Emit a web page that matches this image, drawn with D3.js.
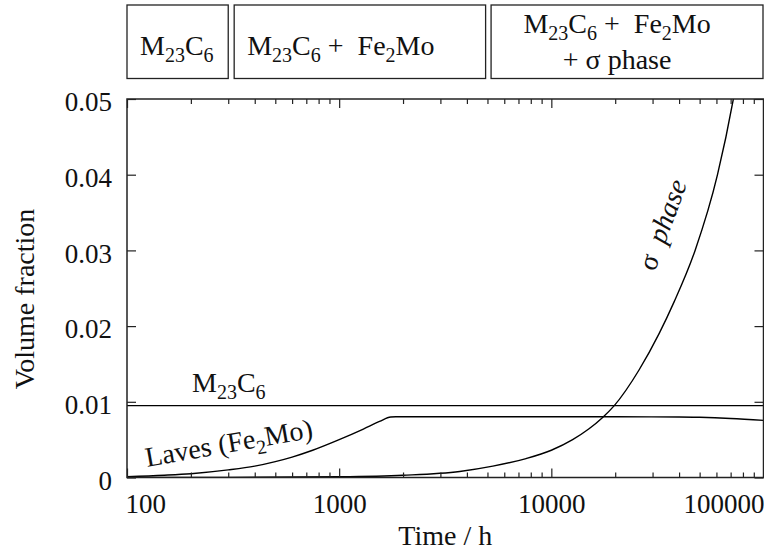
<!DOCTYPE html>
<html>
<head>
<meta charset="utf-8">
<script src="https://cdn.jsdelivr.net/npm/d3@7"></script>
<style>
  html, body { margin: 0; padding: 0; background: #fff; }
  svg { display: block; }
</style>
</head>
<body>
<div id="chart"></div>
<script>
// DATA
const timeMajorTicks = [100, 1000, 10000, 100000];
const timeMinorTicks = [200, 300, 400, 500, 600, 700, 800, 900,
                        2000, 3000, 4000, 5000, 6000, 7000, 8000, 9000,
                        20000, 30000, 40000, 50000, 60000, 70000, 80000, 90000];
const fracTicks = [0, 0.01, 0.02, 0.03, 0.04, 0.05];

// M23C6 — constant
const m23c6Time = [100, 100000];
const m23c6Frac = [0.0095, 0.0095];

// Laves (Fe2Mo)
const lavesTime = [100, 150, 200, 300, 400, 500, 600, 750, 1000, 1300, 1550, 1750, 1850,
                   5000, 20000, 40000, 50000, 70000, 100000];
const lavesFrac = [0.0001, 0.0003, 0.0005, 0.0010, 0.0015, 0.0021, 0.0027, 0.0036, 0.0050, 0.0064, 0.0074, 0.0080, 0.00802,
                   0.00802, 0.00802, 0.00800, 0.00795, 0.00780, 0.00755];

// sigma phase
const sigmaTime = [100, 300, 1000, 2000, 3700, 5300, 7600, 10000, 12600, 15000, 17400, 19800,
                   25900, 32200, 37900, 47600, 60700, 72100, 80000];
const sigmaFrac = [0, 0.00001, 0.0001, 0.0003, 0.0008, 0.0015, 0.0025, 0.0036, 0.0050, 0.0064, 0.0079, 0.0095,
                   0.0142, 0.0190, 0.0232, 0.0300, 0.0400, 0.0500, 0.0575];

// phase regions above the plot
const regionStart = [100, 320, 5200];
const regionEnd = [300, 4900, 100000];
const regionLines = [["M_23C_6"], ["M_23C_6 +  Fe_2Mo"], ["M_23C_6 +  Fe_2Mo", "+ σ phase"]];

// LAYOUT
const W = 764, H = 553;
const FONT = '"Liberation Serif"';
const plot = { left: 127, right: 763.5, top: 99, bottom: 477.5 };

// touch the font first so it is ready before the svg text is laid out
const probe = document.createElement("canvas").getContext("2d");
["28px", "italic 28px", "20px"].forEach(f => {
    probe.font = `${f} ${FONT}`;
    probe.measureText("Volume fraction 0.05 σ phase");
});

const svg = d3.select("#chart").append("svg")
    .attr("width", W)
    .attr("height", H);

svg.append("rect").attr("width", W).attr("height", H).attr("fill", "#fff");

const x = d3.scaleLog().domain([100, 100000]).range([plot.left, plot.right]);
const y = d3.scaleLinear().domain([0, 0.05]).range([plot.bottom, plot.top]);

function addText(sel) {
    return sel.append("text").style("font-family", FONT).attr("xml:space", "preserve").attr("fill", "#111");
}

// helper: text with _NN subscripts
function richText(t, str, subSize = 20, subShift = 7) {
    const parts = str.split(/_(\d+)/);
    parts.forEach((p, i) => {
        if (!p) return;
        const ts = t.append("tspan").text(p);
        if (i % 2 === 1) {
            ts.attr("font-size", subSize).attr("dy", subShift);
        } else if (i > 0 && parts[i - 1]) {
            ts.attr("dy", -subShift);
        }
    });
    return t;
}

// Phase boxes
const boxTop = 5, boxBottom = 78.5;
regionStart.forEach((s, i) => {
    const x0 = i === 0 ? plot.left : x(s);
    const x1 = Math.min(x(regionEnd[i]), W - 1);
    svg.append("rect")
        .attr("x", x0).attr("y", boxTop)
        .attr("width", x1 - x0).attr("height", boxBottom - boxTop)
        .attr("fill", "none").attr("stroke", "#222").attr("stroke-width", 1.3);

    const lines = regionLines[i];
    if (lines.length === 1) {
        const t = addText(svg)
            .attr("x", x0 + 13).attr("y", 55)
            .attr("font-size", 28);
        richText(t, lines[0]);
    } else {
        lines.forEach((ln, j) => {
            const t = addText(svg)
                .attr("x", x0 + 126).attr("y", j === 0 ? 33 : 69)
                .attr("text-anchor", "middle")
                .attr("font-size", 28);
            richText(t, ln);
        });
    }
});

// Curves
const clipId = "plot-clip";
svg.append("clipPath").attr("id", clipId)
    .append("rect")
    .attr("x", plot.left).attr("y", plot.top)
    .attr("width", plot.right - plot.left).attr("height", plot.bottom - plot.top);

const line = d3.line()
    .x(d => x(d[0]))
    .y(d => y(d[1]))
    .curve(d3.curveMonotoneX);

const gCurves = svg.append("g").attr("clip-path", `url(#${clipId})`);
[[m23c6Time, m23c6Frac], [lavesTime, lavesFrac], [sigmaTime, sigmaFrac]].forEach(([ts, vs]) => {
    gCurves.append("path")
        .datum(ts.map((t, i) => [t, vs[i]]))
        .attr("d", line)
        .attr("fill", "none")
        .attr("stroke", "#000")
        .attr("stroke-width", 1.4);
});

// Axes (ticks inward, mirrored)
const fmtTime = d3.format("d");
const axisStyle = g => {
    g.attr("font-family", null);
    g.select(".domain").remove();
    g.selectAll("line").attr("stroke", "#222").attr("stroke-width", 1.2);
    g.selectAll("text").attr("font-size", 27).attr("fill", "#111").style("font-family", FONT);
};

const majorShown = timeMajorTicks.filter(t => x(t) <= plot.right + 1);
const gx = svg.append("g").attr("transform", `translate(0,${plot.bottom})`)
    .call(d3.axisBottom(x).tickValues(majorShown).tickSize(-9).tickPadding(16).tickFormat(fmtTime))
    .call(axisStyle);
svg.append("g").attr("transform", `translate(0,${plot.bottom})`)
    .call(d3.axisBottom(x).tickValues(timeMinorTicks).tickSize(-5).tickFormat(""))
    .call(axisStyle);
svg.append("g").attr("transform", `translate(0,${plot.top})`)
    .call(d3.axisTop(x).tickValues(majorShown).tickSize(-9).tickFormat(""))
    .call(axisStyle);
svg.append("g").attr("transform", `translate(0,${plot.top})`)
    .call(d3.axisTop(x).tickValues(timeMinorTicks).tickSize(-5).tickFormat(""))
    .call(axisStyle);

// keep first/last x labels inside the frame
gx.selectAll(".tick text").each(function (d) {
    const t = d3.select(this);
    if (d === timeMajorTicks[0]) t.attr("text-anchor", "start").attr("x", -2);
    if (d === timeMajorTicks[timeMajorTicks.length - 1]) t.attr("text-anchor", "end").attr("x", W - x(d));
});

svg.append("g").attr("transform", `translate(${plot.left},0)`)
    .call(d3.axisLeft(y).tickValues(fracTicks).tickSize(-9).tickPadding(15).tickFormat(d => d === 0 ? "0" : d3.format(".2f")(d)))
    .call(axisStyle)
    .selectAll(".tick text").attr("dy", "0.43em");
svg.append("g").attr("transform", `translate(${plot.right},0)`)
    .call(d3.axisRight(y).tickValues(fracTicks).tickSize(-9).tickFormat(""))
    .call(axisStyle);

// Frame
svg.append("rect")
    .attr("x", plot.left).attr("y", plot.top)
    .attr("width", plot.right - plot.left).attr("height", plot.bottom - plot.top)
    .attr("fill", "none").attr("stroke", "#222").attr("stroke-width", 1.5);

// Axis titles
addText(svg)
    .attr("x", (plot.left + plot.right) / 2).attr("y", 545)
    .attr("text-anchor", "middle").attr("font-size", 28)
    .text("Time / h");
addText(svg)
    .attr("transform", `translate(34,299) rotate(-90)`)
    .attr("text-anchor", "middle").attr("font-size", 28)
    .text("Volume fraction");

// Curve labels
richText(addText(svg)
    .attr("x", 192).attr("y", 392)
    .attr("font-size", 28), "M_23C_6");

richText(addText(svg)
    .attr("transform", "translate(147,467) rotate(-10)")
    .attr("font-size", 28), "Laves (Fe_2Mo)");

const sig = addText(svg)
    .attr("transform", "translate(671,228) rotate(-70)")
    .attr("text-anchor", "middle").attr("font-size", 28);
sig.append("tspan").text("σ  ");
sig.append("tspan").attr("font-style", "italic").text("phase");
</script>
</body>
</html>
